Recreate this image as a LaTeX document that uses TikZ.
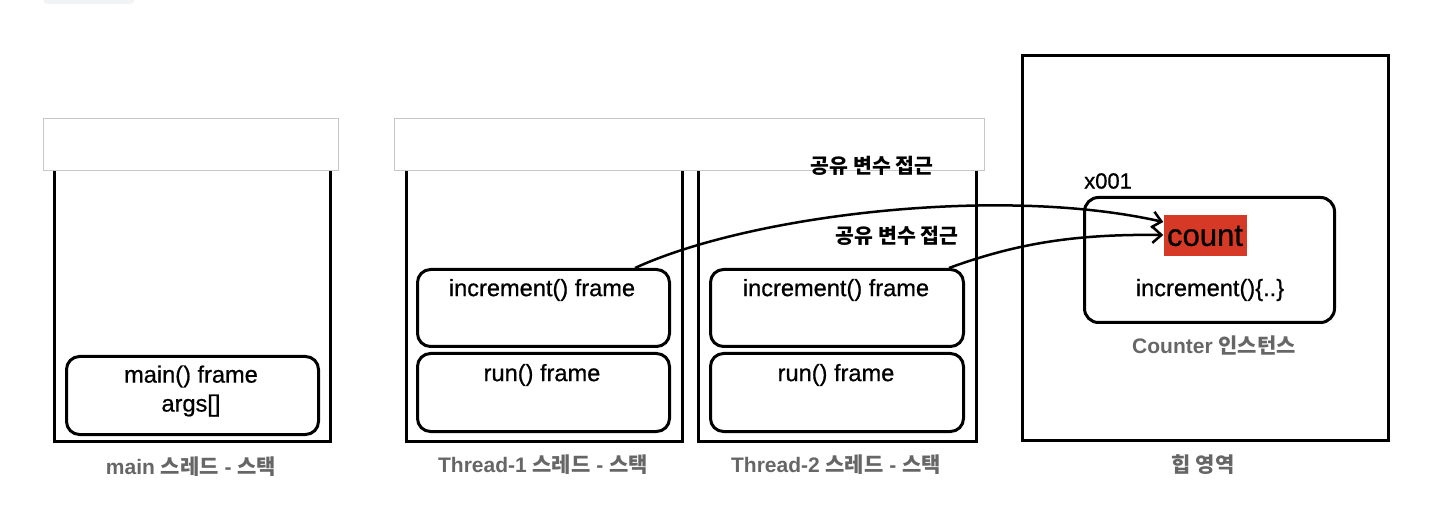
\documentclass[tikz,border=0pt]{standalone}
\usepackage{fontspec}
\setmainfont{Liberation Sans}
\newfontfamily\medfont{Liberation Sans}[FakeBold=0.7]
\newfontfamily\ko{Noto Sans CJK KR}
\usetikzlibrary{arrows.meta}
\definecolor{countred}{HTML}{D63A26}
\definecolor{lblgray}{HTML}{666666}
\definecolor{tabgray}{HTML}{F2F3F5}
\tikzset{
 stackbox/.style={draw=black, line width=3pt, anchor=north west, inner sep=0pt},
 headerbox/.style={draw=black!22, fill=white, line width=1pt, anchor=north west, inner sep=0pt},
 framebox/.style={draw=black, line width=3pt, rounded corners=13pt, anchor=north west, inner sep=0pt},
 frametext/.style={font=\fontsize{23.6}{28}\medfont, inner sep=0pt},
 caption/.style={font=\fontsize{21}{25}\selectfont\bfseries, text=lblgray, inner sep=0pt},
 sharelbl/.style={font=\fontsize{20.5}{24}\selectfont\bfseries, inner sep=0pt},
 access/.style={line width=2.5pt, -{Straight Barb[length=9pt,width=16pt,line width=2.5pt]}}
}
\begin{document}
\begin{tikzpicture}[x=1pt,y=-1pt]
\useasboundingbox (0,0) rectangle (1440,510);
\begin{scope}
\clip (0,0) rectangle (1440,510);
\fill[tabgray, rounded corners=5pt] (43,-10) rectangle (135,4);
\end{scope}

% stacks
\node[stackbox, minimum width=276pt, minimum height=275pt] (mainstack) at (53,165) {};
\node[stackbox, minimum width=276pt, minimum height=275pt] (t1stack) at (405,165) {};
\node[stackbox, minimum width=278pt, minimum height=275pt] (t2stack) at (697,165) {};
\node[headerbox, minimum width=295pt, minimum height=52pt] (mainhead) at (43,118) {};
\node[headerbox, minimum width=590pt, minimum height=52pt] (threadhead) at (394,118) {};

% frames
\node[framebox, minimum width=252pt, minimum height=78pt] (mainframe) at (65,355) {};
\node[frametext, align=center] (maintxt) at (191,391) {main() frame\\[1pt]args[]};
\node[framebox, minimum width=252pt, minimum height=77pt] (inc1) at (416,268) {};
\node[frametext] (inc1txt) at (542,290) {increment() frame};
\node[framebox, minimum width=252pt, minimum height=78pt] (run1) at (416,352) {};
\node[frametext] (run1txt) at (542,375) {run() frame};
\node[framebox, minimum width=253pt, minimum height=77pt] (inc2) at (709,268) {};
\node[frametext] (inc2txt) at (836,290) {increment() frame};
\node[framebox, minimum width=253pt, minimum height=78pt] (run2) at (709,352) {};
\node[frametext] (run2txt) at (836,375) {run() frame};

% heap
\node[stackbox, minimum width=366pt, minimum height=385pt] (heap) at (1021,54) {};
\node[framebox, rounded corners=14pt, minimum width=250pt, minimum height=125pt] (counter) at (1083,196) {};
\node[fill=countred, minimum width=83pt, minimum height=41pt, inner sep=0pt, font=\fontsize{31}{33}\medfont] (count) at (1205,236) {count};
\node[frametext] (inctxt) at (1210,290) {increment()\{..\}};
\node[frametext, font=\fontsize{22}{26}\medfont, anchor=west] (addr) at (1084,181) {x001};
\node[caption] (ctrlbl) at (1214,345) {Counter {\ko 인스턴스}};

% captions
\node[caption] (maincap) at (191,467) {main {\ko 스레드} - {\ko 스택}};
\node[caption] (t1cap) at (543,465) {Thread-1 {\ko 스레드} - {\ko 스택}};
\node[caption] (t2cap) at (836,465) {Thread-2 {\ko 스레드} - {\ko 스택}};
\node[caption] (heapcap) at (1203,465) {{\ko 힙 영역}};

% access arrows
\node[sharelbl] (share1) at (872,166) {\ko 공유 변수 접근};
\node[sharelbl] (share2) at (897,236) {\ko 공유 변수 접근};
\draw[access] ([xshift=-36pt]inc1.north east) .. controls (750,215) and (1000,185) .. ([yshift=14pt]count.west);
\draw[access] ([xshift=-16pt]inc2.north east) .. controls (1020,242) and (1080,234) .. ([yshift=1pt]count.west);
\end{tikzpicture}
\end{document}
